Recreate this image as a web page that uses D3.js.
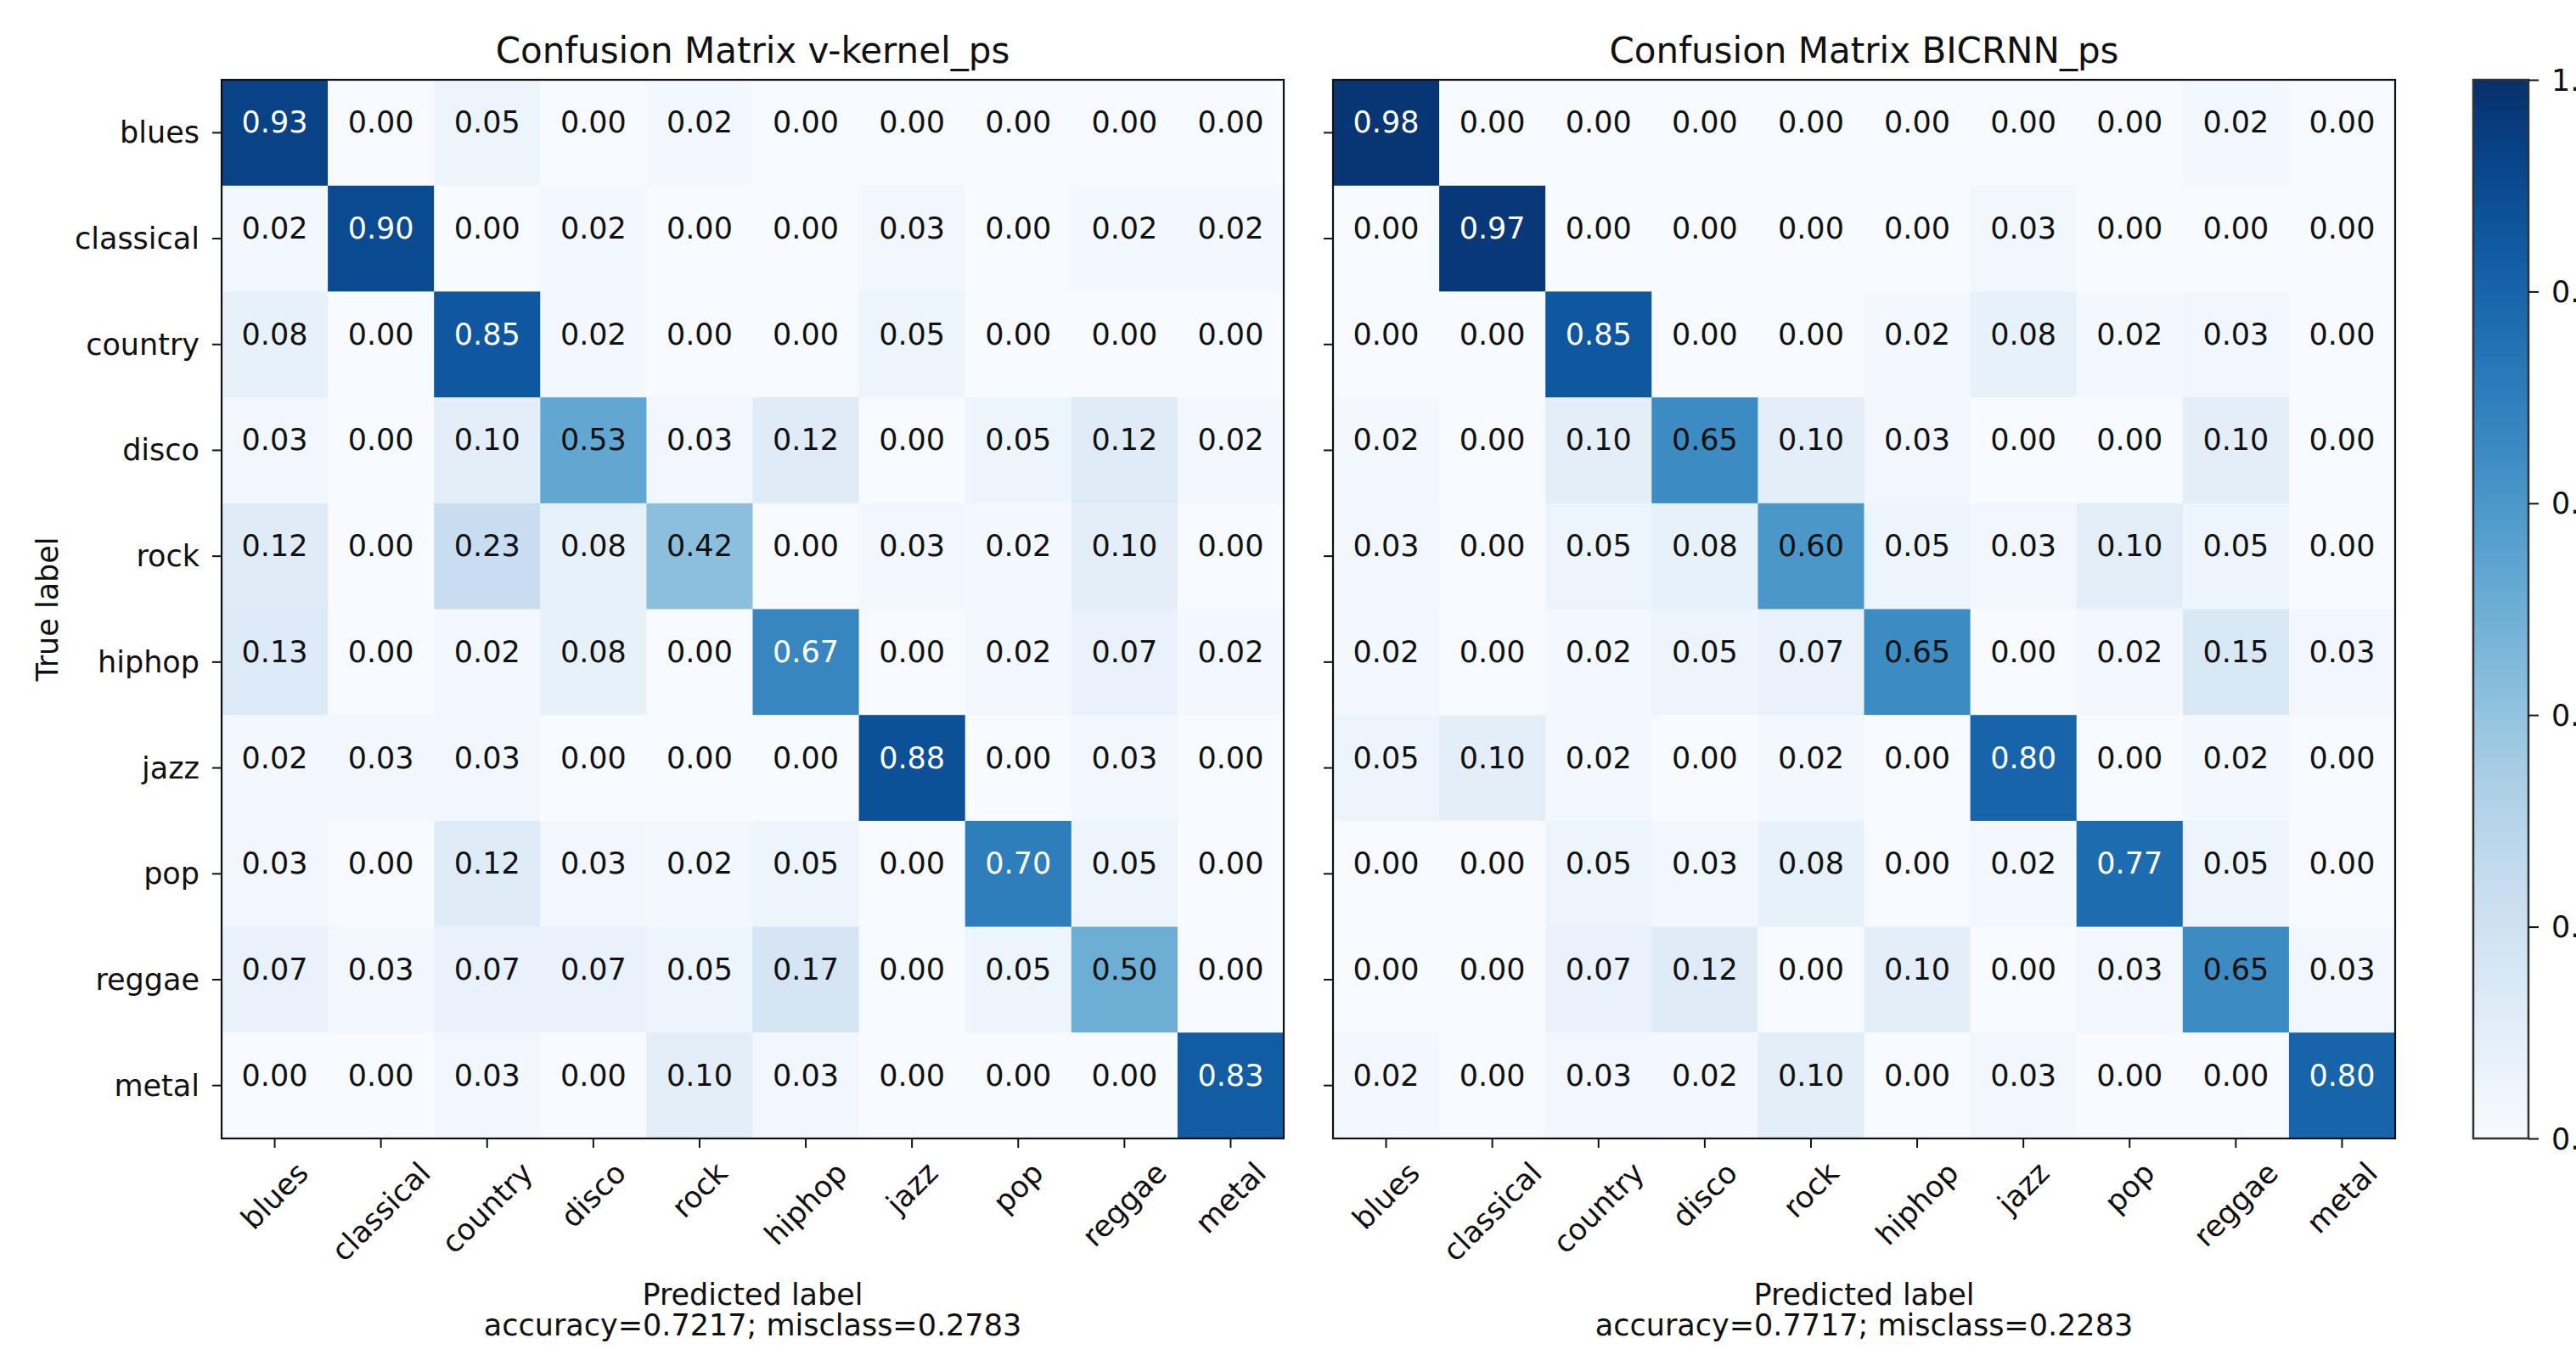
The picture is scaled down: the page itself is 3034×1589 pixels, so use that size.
<!DOCTYPE html>
<html>
<head>
<meta charset="utf-8">
<script src="https://cdn.jsdelivr.net/npm/d3@7"></script>
<style>
  html, body { margin: 0; padding: 0; background: #ffffff; overflow: hidden; }
  svg { display: block; font-family: "DejaVu Sans", sans-serif; }
</style>
</head>
<body>
<svg id="chart" width="3034" height="1589"></svg>
<script>
// Genre classes (rows = true label, columns = predicted label)
const genres = ["blues", "classical", "country", "disco", "rock", "hiphop", "jazz", "pop", "reggae", "metal"];

// Normalized confusion matrix for v-kernel_ps
const vkernelMatrix = [
  [0.93, 0.00, 0.05, 0.00, 0.02, 0.00, 0.00, 0.00, 0.00, 0.00],
  [0.02, 0.90, 0.00, 0.02, 0.00, 0.00, 0.03, 0.00, 0.02, 0.02],
  [0.08, 0.00, 0.85, 0.02, 0.00, 0.00, 0.05, 0.00, 0.00, 0.00],
  [0.03, 0.00, 0.10, 0.53, 0.03, 0.12, 0.00, 0.05, 0.12, 0.02],
  [0.12, 0.00, 0.23, 0.08, 0.42, 0.00, 0.03, 0.02, 0.10, 0.00],
  [0.13, 0.00, 0.02, 0.08, 0.00, 0.67, 0.00, 0.02, 0.07, 0.02],
  [0.02, 0.03, 0.03, 0.00, 0.00, 0.00, 0.88, 0.00, 0.03, 0.00],
  [0.03, 0.00, 0.12, 0.03, 0.02, 0.05, 0.00, 0.70, 0.05, 0.00],
  [0.07, 0.03, 0.07, 0.07, 0.05, 0.17, 0.00, 0.05, 0.50, 0.00],
  [0.00, 0.00, 0.03, 0.00, 0.10, 0.03, 0.00, 0.00, 0.00, 0.83]
];

// Normalized confusion matrix for BICRNN_ps
const bicrnnMatrix = [
  [0.98, 0.00, 0.00, 0.00, 0.00, 0.00, 0.00, 0.00, 0.02, 0.00],
  [0.00, 0.97, 0.00, 0.00, 0.00, 0.00, 0.03, 0.00, 0.00, 0.00],
  [0.00, 0.00, 0.85, 0.00, 0.00, 0.02, 0.08, 0.02, 0.03, 0.00],
  [0.02, 0.00, 0.10, 0.65, 0.10, 0.03, 0.00, 0.00, 0.10, 0.00],
  [0.03, 0.00, 0.05, 0.08, 0.60, 0.05, 0.03, 0.10, 0.05, 0.00],
  [0.02, 0.00, 0.02, 0.05, 0.07, 0.65, 0.00, 0.02, 0.15, 0.03],
  [0.05, 0.10, 0.02, 0.00, 0.02, 0.00, 0.80, 0.00, 0.02, 0.00],
  [0.00, 0.00, 0.05, 0.03, 0.08, 0.00, 0.02, 0.77, 0.05, 0.00],
  [0.00, 0.00, 0.07, 0.12, 0.00, 0.10, 0.00, 0.03, 0.65, 0.03],
  [0.02, 0.00, 0.03, 0.02, 0.10, 0.00, 0.03, 0.00, 0.00, 0.80]
];

const panelTitles = ["Confusion Matrix v-kernel_ps", "Confusion Matrix BICRNN_ps"];
const panelAccuracy = ["accuracy=0.7217; misclass=0.2783", "accuracy=0.7717; misclass=0.2283"];
const colorbarTicks = [0.0, 0.2, 0.4, 0.6, 0.8, 1.0];

// Layout
const svg = d3.select("#chart");
const plotTop = 94, plotBottom = 1341;
const panelLeft = [261, 1570];
const panelSize = 1251;
const tickLen = 11;
const labelFont = 35, titleFont = 42;

const color = d3.scaleSequential(d3.interpolateBlues).domain([0, 1]);

function drawPanel(matrix, idx) {
  const x0 = panelLeft[idx], x1 = x0 + panelSize;
  const x = d3.scaleBand().domain(genres).range([x0, x1]);
  const y = d3.scaleBand().domain(genres).range([plotTop, plotBottom]);
  const g = svg.append("g");

  const flat = [];
  matrix.forEach((row, i) => row.forEach((v, j) => flat.push({ r: genres[i], c: genres[j], v })));
  const thresh = d3.max(flat, d => d.v) / 1.5;

  // cells
  g.selectAll("rect.cell").data(flat).join("rect")
    .attr("class", "cell")
    .attr("x", d => x(d.c))
    .attr("y", d => y(d.r))
    .attr("width", x.bandwidth() + 0.5)
    .attr("height", y.bandwidth() + 0.5)
    .attr("fill", d => color(d.v));

  // cell values, baseline sitting on the cell centre
  g.selectAll("text.val").data(flat).join("text")
    .attr("class", "val")
    .attr("x", d => x(d.c) + x.bandwidth() / 2)
    .attr("y", d => y(d.r) + y.bandwidth() / 2)
    .attr("text-anchor", "middle")
    .attr("font-size", labelFont)
    .attr("fill", d => d.v > thresh ? "#ffffff" : "#111111")
    .text(d => d3.format(".2f")(d.v));

  // frame
  g.append("rect")
    .attr("x", x0).attr("y", plotTop)
    .attr("width", panelSize).attr("height", plotBottom - plotTop)
    .attr("fill", "none").attr("stroke", "#111").attr("stroke-width", 2.2);

  // y axis
  const yAxis = d3.axisLeft(y).tickSize(tickLen).tickSizeOuter(0).tickPadding(15);
  const ya = g.append("g").attr("transform", `translate(${x0},0)`).call(yAxis);
  ya.select(".domain").remove();
  ya.selectAll(".tick line").attr("stroke", "#111").attr("stroke-width", 2);
  ya.selectAll(".tick text")
    .attr("font-size", labelFont)
    .attr("font-family", "DejaVu Sans")
    .attr("fill", "#111")
    .attr("dy", null)
    .attr("dominant-baseline", "central");
  if (idx === 1) ya.selectAll(".tick text").remove();

  // x axis with 45° labels
  const xAxis = d3.axisBottom(x).tickSize(tickLen).tickSizeOuter(0);
  const xa = g.append("g").attr("transform", `translate(0,${plotBottom})`).call(xAxis);
  xa.select(".domain").remove();
  xa.selectAll(".tick line").attr("stroke", "#111").attr("stroke-width", 2);
  xa.selectAll(".tick text")
    .attr("font-size", labelFont)
    .attr("font-family", "DejaVu Sans")
    .attr("fill", "#111")
    .attr("text-anchor", "middle")
    .attr("dominant-baseline", "central")
    .attr("y", 0).attr("dy", null)
    .each(function () {
      const w = this.getComputedTextLength();
      const h = labelFont * 1.16;
      const cy = tickLen + 9 + (w + h) * Math.SQRT1_2 / 2;
      d3.select(this).attr("transform", `translate(0,${cy}) rotate(-45)`);
    });

  const cx = (x0 + x1) / 2;
  // title
  g.append("text")
    .attr("x", cx).attr("y", 74)
    .attr("text-anchor", "middle")
    .attr("font-size", titleFont)
    .attr("fill", "#111")
    .text(panelTitles[idx]);

  // x label and accuracy line
  g.append("text")
    .attr("x", cx).attr("y", 1537)
    .attr("text-anchor", "middle")
    .attr("font-size", labelFont)
    .attr("fill", "#111")
    .text("Predicted label");
  g.append("text")
    .attr("x", cx).attr("y", 1573)
    .attr("text-anchor", "middle")
    .attr("font-size", labelFont)
    .attr("fill", "#111")
    .text(panelAccuracy[idx]);

  if (idx === 0) {
    g.append("text")
      .attr("transform", `translate(68,${(plotTop + plotBottom) / 2}) rotate(-90)`)
      .attr("text-anchor", "middle")
      .attr("font-size", labelFont)
      .attr("fill", "#111")
      .text("True label");
  }
}

drawPanel(vkernelMatrix, 0);
drawPanel(bicrnnMatrix, 1);

// colorbar
const cbX = 2913, cbW = 65;
const cbScale = d3.scaleLinear().domain([0, 1]).range([plotBottom, plotTop]);
const defs = svg.append("defs");
const grad = defs.append("linearGradient")
  .attr("id", "cbGrad")
  .attr("x1", 0).attr("y1", 1).attr("x2", 0).attr("y2", 0);
d3.range(0, 1.0001, 0.02).forEach(t => {
  grad.append("stop").attr("offset", t).attr("stop-color", color(t));
});
svg.append("rect")
  .attr("x", cbX).attr("y", plotTop)
  .attr("width", cbW).attr("height", plotBottom - plotTop)
  .attr("fill", "url(#cbGrad)")
  .attr("stroke", "#333").attr("stroke-width", 2.5);

const cbAxis = d3.axisRight(cbScale).tickValues(colorbarTicks)
  .tickFormat(d3.format(".1f")).tickSize(12).tickSizeOuter(0).tickPadding(15);
const cba = svg.append("g").attr("transform", `translate(${cbX + cbW},0)`).call(cbAxis);
cba.select(".domain").remove();
cba.selectAll(".tick line").attr("stroke", "#111").attr("stroke-width", 2);
cba.selectAll(".tick text")
  .attr("font-size", labelFont)
  .attr("font-family", "DejaVu Sans")
  .attr("fill", "#111")
  .attr("dy", null)
  .attr("dominant-baseline", "central");
</script>
</body>
</html>
